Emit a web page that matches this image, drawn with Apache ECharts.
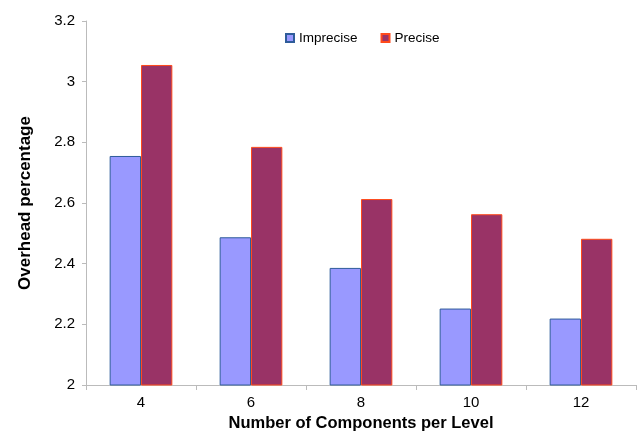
<!DOCTYPE html>
<html><head><meta charset="utf-8">
<script src="https://cdn.jsdelivr.net/npm/echarts@6/dist/echarts.min.js"></script>
<style>html,body{margin:0;padding:0;background:#fff}#c{width:638px;height:439px}</style>
</head><body><div id="c"></div>
<script>
var categories = ['4', '6', '8', '10', '12'];
var imprecise = [2.755, 2.487, 2.386, 2.252, 2.219];
var precise = [3.055, 2.785, 2.613, 2.563, 2.482];
var seriesNames = ['Imprecise', 'Precise'];

var chart = echarts.init(document.getElementById('c'), null, {renderer: 'canvas'});
var font = 'Liberation Sans, Arial, sans-serif';
chart.setOption({
  animation: false,
  textStyle: {fontFamily: font},
  legend: {
    top: 26, left: 280,
    icon: 'rect',
    itemWidth: 8, itemHeight: 8, itemGap: 23,
    textStyle: {fontSize: 13.5, color: '#000', fontFamily: font},
    data: seriesNames
  },
  grid: {left: 86, right: 2, top: 21, bottom: 54},
  xAxis: {
    type: 'category', data: categories,
    name: 'Number of Components per Level', nameLocation: 'middle', nameGap: 30,
    nameTextStyle: {fontSize: 16.5, fontWeight: 'bold', color: '#000', fontFamily: font},
    axisLine: {lineStyle: {color: '#bbbbbb', width: 1}},
    axisTick: {show: true, length: 5, lineStyle: {color: '#bbbbbb'}},
    axisLabel: {fontSize: 15, color: '#000', margin: 10, fontFamily: font}
  },
  yAxis: {
    type: 'value', min: 2, max: 3.2, interval: 0.2,
    name: 'Overhead percentage', nameLocation: 'middle', nameGap: 52,
    nameTextStyle: {fontSize: 17, fontWeight: 'bold', color: '#000', fontFamily: font},
    axisLine: {show: true, lineStyle: {color: '#bbbbbb', width: 1}},
    axisTick: {show: true, length: 4, lineStyle: {color: '#bbbbbb'}},
    splitLine: {show: false},
    axisLabel: {fontSize: 15, color: '#000', margin: 11, fontFamily: font,
      formatter: function (v) { return String(Math.round(v * 10) / 10); }}
  },
  series: [
    {name: seriesNames[0], type: 'bar', data: imprecise, barCategoryGap: '43%', barGap: '0%',
      itemStyle: {color: '#9999ff', borderColor: '#2f5c9a', borderWidth: 1}},
    {name: seriesNames[1], type: 'bar', data: precise, barCategoryGap: '43%', barGap: '0%',
      itemStyle: {color: '#993366', borderColor: '#ff4a1c', borderWidth: 1}}
  ]
});
</script></body></html>
